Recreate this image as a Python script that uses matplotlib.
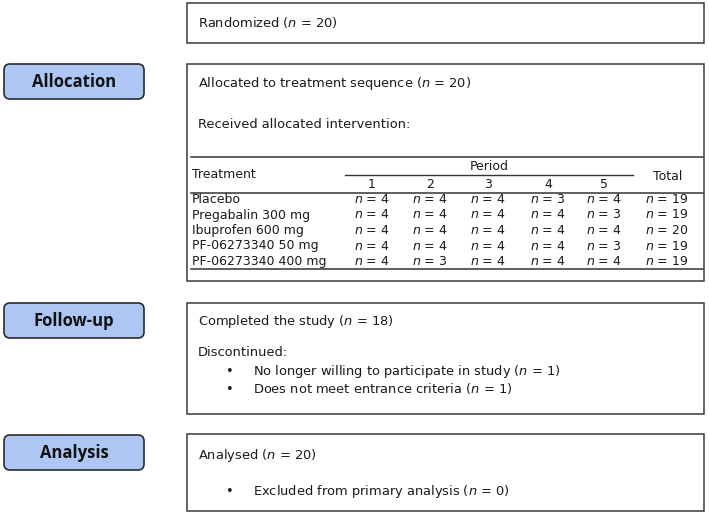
import matplotlib
matplotlib.use("Agg")
import matplotlib.pyplot as plt
from matplotlib.patches import Rectangle, FancyBboxPatch

# data
stage_labels = ["Allocation", "Follow-up", "Analysis"]
n_randomized = 20
n_allocated = 20
periods = [1, 2, 3, 4, 5]
treatments = [
    "Placebo",
    "Pregabalin 300 mg",
    "Ibuprofen 600 mg",
    "PF-06273340 50 mg",
    "PF-06273340 400 mg",
]
period_counts = [
    [4, 4, 4, 3, 4],
    [4, 4, 4, 4, 3],
    [4, 4, 4, 4, 4],
    [4, 4, 4, 4, 3],
    [4, 3, 4, 4, 4],
]
totals = [19, 19, 20, 19, 19]
n_completed = 18
discontinued = ["No longer willing to participate in study", "Does not meet entrance criteria"]
discontinued_n = [1, 1]
n_analysed = 20
excluded = ["Excluded from primary analysis"]
excluded_n = [0]

plt.rcParams["font.family"] = "DejaVu Sans"
plt.rcParams["mathtext.fontset"] = "dejavusans"

fig = plt.figure(figsize=(7.09, 5.14), dpi=100)
ax = fig.add_axes([0, 0, 1, 1])
ax.set_xlim(0, 709)
ax.set_ylim(514, 0)
ax.axis("off")

txt_col = "#1a1a1a"
edge_col = "#3a3a3a"
label_fill = "#adc6f4"
body_fs = 9.4
tab_fs = 9


def box(x0, y0, x1, y1):
    ax.add_patch(Rectangle((x0, y0), x1 - x0, y1 - y0, fill=False,
                           ec=edge_col, lw=1.1))


def label(text, y0, y1):
    ax.add_patch(FancyBboxPatch((4, y0), 140, y1 - y0,
                                boxstyle="round,pad=0,rounding_size=6",
                                fc=label_fill, ec="#2b2b2b", lw=1.2))
    ax.text(74, (y0 + y1) / 2 + 0.5, text, ha="center", va="center",
            fontsize=12, fontweight="bold", family="Open Sans", color="#111111")


def put(x, y, s, fs=body_fs, ha="left"):
    ax.text(x, y, s, ha=ha, va="center", fontsize=fs, color=txt_col)


# Randomized
box(187, 3, 704, 43)
put(198, 22, f"Randomized ($n$ = {n_randomized})")

# Allocation
label(stage_labels[0], 64, 99)
box(187, 64, 704, 281)
put(198, 84, f"Allocated to treatment sequence ($n$ = {n_allocated})")
put(198, 125, "Received allocated intervention:")

col_x = [372, 430, 488, 548, 604]
total_x = 667
ax.plot([191, 703], [157, 157], color="#333333", lw=1.1)
ax.plot([345, 633], [175, 175], color="#333333", lw=1.0)
ax.plot([191, 703], [192.5, 192.5], color="#333333", lw=1.1)
ax.plot([191, 703], [269, 269], color="#333333", lw=1.1)
put(489, 166, "Period", tab_fs, "center")
put(192, 175, "Treatment", tab_fs)
put(total_x + 1, 176, "Total", tab_fs, "center")
for x, p in zip(col_x, periods):
    put(x, 184, str(p), tab_fs, "center")
row_y = [199.5, 215, 230.5, 246, 261.5]
for y, name, counts, tot in zip(row_y, treatments, period_counts, totals):
    put(192, y, name, tab_fs)
    for x, c in zip(col_x, counts):
        put(x, y, f"$n$ = {c}", tab_fs, "center")
    put(total_x, y, f"$n$ = {tot}", tab_fs, "center")

# Follow-up
label(stage_labels[1], 303, 338)
box(187, 303, 704, 414)
put(198, 322, f"Completed the study ($n$ = {n_completed})")
put(198, 353, "Discontinued:")
for y, reason, n in zip([371, 389], discontinued, discontinued_n):
    put(230, y, "\u2022", body_fs, "center")
    put(253, y, f"{reason} ($n$ = {n})")

# Analysis
label(stage_labels[2], 435, 470)
box(187, 434, 704, 511)
put(198, 455, f"Analysed ($n$ = {n_analysed})")
for y, reason, n in zip([491], excluded, excluded_n):
    put(230, y, "\u2022", body_fs, "center")
    put(253, y, f"{reason} ($n$ = {n})")

fig.savefig("out.png", dpi=100)
